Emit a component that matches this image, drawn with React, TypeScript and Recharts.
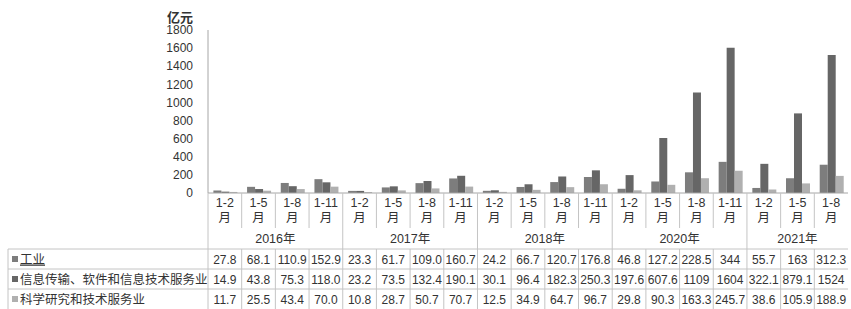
import React from 'react';
import { BarChart, Bar, XAxis, YAxis } from 'recharts';

// months of each period, grouped by year
const periods = ['1-2', '1-5', '1-8', '1-11', '1-2', '1-5', '1-8', '1-11', '1-2', '1-5', '1-8', '1-11', '1-2', '1-5', '1-8', '1-11', '1-2', '1-5', '1-8'];
const years = ['2016年', '2017年', '2018年', '2020年', '2021年'];
const yearSizes = [4, 4, 4, 4, 3];

// values as printed in the table (亿元)
const industry = ['27.8', '68.1', '110.9', '152.9', '23.3', '61.7', '109.0', '160.7', '24.2', '66.7', '120.7', '176.8', '46.8', '127.2', '228.5', '344', '55.7', '163', '312.3'];
const infoTech = ['14.9', '43.8', '75.3', '118.0', '23.2', '73.5', '132.4', '190.1', '30.1', '96.4', '182.3', '250.3', '197.6', '607.6', '1109', '1604', '322.1', '879.1', '1524'];
const science = ['11.7', '25.5', '43.4', '70.0', '10.8', '28.7', '50.7', '70.7', '12.5', '34.9', '64.7', '96.7', '29.8', '90.3', '163.3', '245.7', '38.6', '105.9', '188.9'];

const yTicks = [0, 200, 400, 600, 800, 1000, 1200, 1400, 1600, 1800];

const SERIES = [
  { key: 'industry', name: '工业', values: industry, color: '#7d7d7d' },
  { key: 'infoTech', name: '信息传输、软件和信息技术服务业', values: infoTech, color: '#666666' },
  { key: 'science', name: '科学研究和技术服务业', values: science, color: '#b0b0b0' },
];

const W = 851;
const H = 309;
const LEFT = 208;
const RIGHT = 3;
const TOP = 30;
const BOTTOM = 116;
const STEP = (W - LEFT - RIGHT) / periods.length;

const LINE = '#c4c4c4';
const TEXT = '#333333';
const FONT = '"Liberation Sans", "Noto Sans CJK SC", sans-serif';

const data = periods.map((p, i) => ({
  period: p,
  idx: i,
  industry: Number(industry[i]),
  infoTech: Number(infoTech[i]),
  science: Number(science[i]),
}));

// which index starts each year group
const groupStarts: Record<number, number> = {};
let acc = 0;
yearSizes.forEach((s, g) => { groupStarts[acc] = g; acc += s; });

const TableTick = (props: any) => {
  const { x, y, index } = props;
  const left = x - STEP / 2;
  const g = groupStarts[index];
  const isStart = g !== undefined;
  const rowTop = y + 56;
  const tableBottom = H;
  const rows = [0, 1, 2].map(r => rowTop + r * 20);

  return (
    <g fontFamily={FONT} fill={TEXT}>
      {index === 0 && (
        <g>
          {[...rows].map((ry, r) => (
            <line key={'h' + r} x1={8} x2={W - RIGHT} y1={ry} y2={ry} stroke={LINE} />
          ))}
          <line x1={8} x2={8} y1={rowTop} y2={tableBottom} stroke={LINE} />
          {SERIES.map((s, r) => (
            <g key={s.key}>
              <rect x={12} y={rows[r] + 7} width={6} height={6} fill={s.color} />
              <text x={20} y={rows[r] + 14.5} fontSize={12.5} textDecoration={r === 0 ? 'underline' : undefined}>{s.name}</text>
            </g>
          ))}
        </g>
      )}
      {isStart ? (
        <line x1={left} x2={left} y1={y} y2={tableBottom} stroke={LINE} />
      ) : (
        <g>
          <line x1={left} x2={left} y1={y} y2={y + 35} stroke={LINE} />
          <line x1={left} x2={left} y1={rowTop} y2={tableBottom} stroke={LINE} />
        </g>
      )}
      <text x={x} y={y + 14} textAnchor="middle" fontSize={12.5}>{periods[index]}</text>
      <text x={x} y={y + 29} textAnchor="middle" fontSize={12.5}>月</text>
      {isStart && (
        <text x={left + (yearSizes[g] * STEP) / 2} y={y + 50} textAnchor="middle" fontSize={12.5}>{years[g]}</text>
      )}
      {SERIES.map((s, r) => (
        <text key={s.key} x={x} y={rows[r] + 14.5} textAnchor="middle" fontSize={12}>{s.values[index]}</text>
      ))}
    </g>
  );
};

export default function App() {
  return (
    <div style={{ position: 'absolute', left: 0, top: 0, width: W, height: H, background: '#fff' }}>
      <BarChart
        width={W}
        height={H}
        data={data}
        margin={{ top: TOP, right: RIGHT, left: LEFT - 40, bottom: 0 }}
        barGap={0}
        barCategoryGap="16%"
      >
        <XAxis
          dataKey="idx"
          height={BOTTOM}
          interval={0}
          tickLine={false}
          tickSize={0}
          tickMargin={0}
          axisLine={{ stroke: '#a6a6a6' }}
          tick={<TableTick />}
        />
        <YAxis
          width={40}
          domain={[0, 1800]}
          ticks={yTicks}
          interval={0}
          tickLine={false}
          tickSize={0}
          tickMargin={15}
          axisLine={{ stroke: '#a6a6a6' }}
          tick={{ fill: TEXT, fontSize: 12, fontFamily: FONT }}
          label={{ value: '亿元', position: 'top', offset: 8, dx: -8, fill: TEXT, fontSize: 13, fontWeight: 'bold', fontFamily: FONT }}
        />
        {SERIES.map(s => (
          <Bar key={s.key} dataKey={s.key} name={s.name} fill={s.color} isAnimationActive={false} />
        ))}
      </BarChart>
    </div>
  );
}
